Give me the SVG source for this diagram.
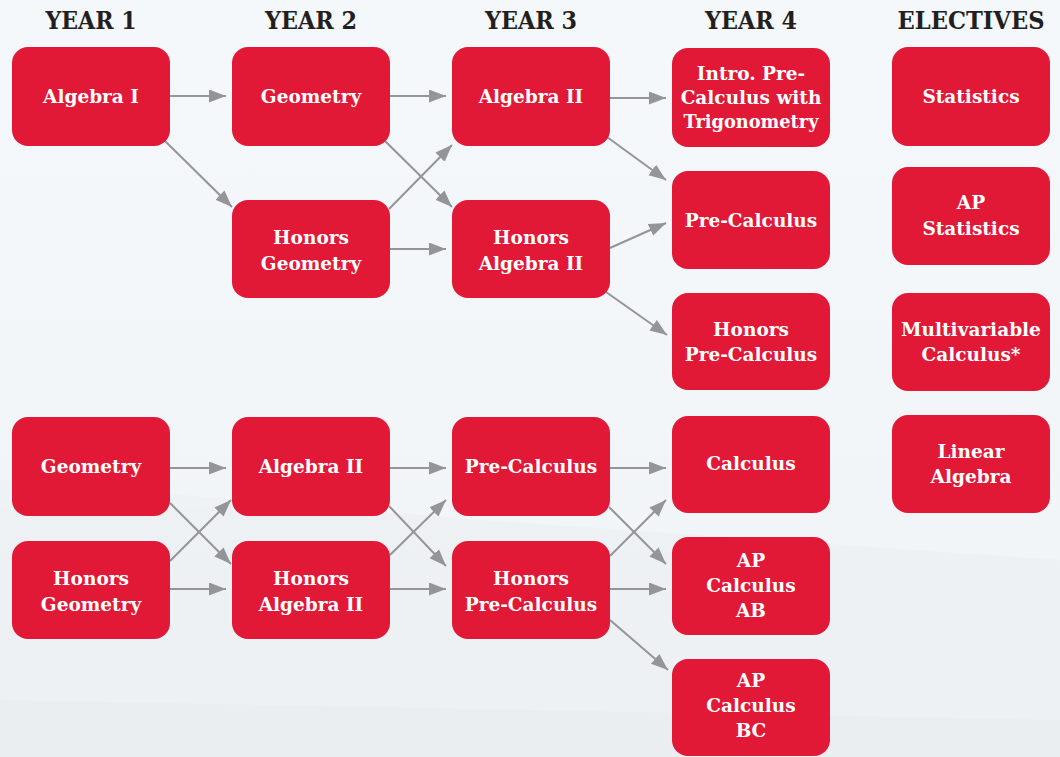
<svg xmlns="http://www.w3.org/2000/svg" width="1060" height="757" viewBox="0 0 1060 757">
<defs>
<marker id="ah" markerUnits="userSpaceOnUse" markerWidth="18" markerHeight="14" refX="17" refY="6.5" orient="auto">
<path d="M0,0 L17,6.5 L0,13 z" fill="#939598"/>
</marker>
<linearGradient id="bg" x1="0" y1="0" x2="0" y2="1">
<stop offset="0" stop-color="#f4f8fb"/>
<stop offset="1" stop-color="#f1f4f6"/>
</linearGradient>
</defs>
<style>
.n rect{fill:#e11937;}
.n text{fill:#ffffff;font-family:"DejaVu Serif","Liberation Serif",serif;font-weight:bold;font-size:18.5px;text-anchor:middle;dominant-baseline:central;}
.h{fill:#231f20;font-family:"DejaVu Serif","Liberation Serif",serif;font-weight:bold;font-size:25px;text-anchor:middle;}
#connectors line{stroke:#939598;stroke-width:2;marker-end:url(#ah);}
</style>
<rect width="1060" height="757" fill="url(#bg)"/>
<g id="building" opacity="0.5">
<polygon points="0,480 480,520 1060,560 1060,757 0,757" fill="#eceff1"/>
<polygon points="0,700 1060,720 1060,757 0,757" fill="#e6e9eb"/>
</g>
<g id="headers">
<text class="h" x="91" y="29" textLength="91" lengthAdjust="spacingAndGlyphs">YEAR 1</text>
<text class="h" x="311" y="29" textLength="92" lengthAdjust="spacingAndGlyphs">YEAR 2</text>
<text class="h" x="531" y="29" textLength="92" lengthAdjust="spacingAndGlyphs">YEAR 3</text>
<text class="h" x="751" y="29" textLength="92" lengthAdjust="spacingAndGlyphs">YEAR 4</text>
<text class="h" x="971" y="29" textLength="147" lengthAdjust="spacingAndGlyphs">ELECTIVES</text>
</g>
<g id="connectors">
<line x1="170" y1="96" x2="226" y2="96"/>
<line x1="165" y1="141" x2="232" y2="207"/>
<line x1="390" y1="96" x2="446" y2="96"/>
<line x1="385" y1="141" x2="452" y2="207"/>
<line x1="389" y1="209" x2="452" y2="145"/>
<line x1="390" y1="249" x2="446" y2="249"/>
<line x1="610" y1="98" x2="666" y2="98"/>
<line x1="607" y1="137" x2="666" y2="180"/>
<line x1="610" y1="248" x2="666" y2="223"/>
<line x1="606" y1="292" x2="667" y2="335"/>
<line x1="170" y1="468" x2="226" y2="468"/>
<line x1="170" y1="503" x2="231" y2="564"/>
<line x1="170" y1="561" x2="231" y2="500"/>
<line x1="170" y1="589" x2="226" y2="589"/>
<line x1="390" y1="468" x2="446" y2="468"/>
<line x1="389" y1="506" x2="446" y2="566"/>
<line x1="390" y1="555" x2="446" y2="500"/>
<line x1="390" y1="589" x2="446" y2="589"/>
<line x1="610" y1="468" x2="666" y2="468"/>
<line x1="609" y1="507" x2="666" y2="564"/>
<line x1="610" y1="556" x2="666" y2="500"/>
<line x1="610" y1="589" x2="666" y2="589"/>
<line x1="610" y1="620" x2="668" y2="670"/>
</g>
<g id="algebra1" class="n"><rect x="12" y="47" width="158" height="99" rx="16"/><text x="91" y="96">Algebra I</text></g>
<g id="geometry1" class="n"><rect x="232" y="47" width="158" height="99" rx="16"/><text x="311" y="96">Geometry</text></g>
<g id="honors-geometry1" class="n"><rect x="232" y="200" width="158" height="98" rx="16"/><text x="311" y="237">Honors</text><text x="311" y="263">Geometry</text></g>
<g id="algebra2-a" class="n"><rect x="452" y="47" width="158" height="99" rx="16"/><text x="531" y="96">Algebra II</text></g>
<g id="honors-algebra2-a" class="n"><rect x="452" y="200" width="158" height="98" rx="16"/><text x="531" y="237">Honors</text><text x="531" y="263">Algebra II</text></g>
<g id="intro-precalc" class="n"><rect x="672" y="48" width="158" height="99" rx="16"/><text x="751" y="73">Intro. Pre-</text><text x="751" y="97">Calculus with</text><text x="751" y="121" textLength="135" lengthAdjust="spacingAndGlyphs">Trigonometry</text></g>
<g id="precalc-a" class="n"><rect x="672" y="171" width="158" height="98" rx="16"/><text x="751" y="220">Pre-Calculus</text></g>
<g id="honors-precalc-a" class="n"><rect x="672" y="293" width="158" height="97" rx="16"/><text x="751" y="329">Honors</text><text x="751" y="354">Pre-Calculus</text></g>
<g id="geometry-b" class="n"><rect x="12" y="417" width="158" height="99" rx="16"/><text x="91" y="466">Geometry</text></g>
<g id="honors-geometry-b" class="n"><rect x="12" y="541" width="158" height="98" rx="16"/><text x="91" y="578">Honors</text><text x="91" y="604">Geometry</text></g>
<g id="algebra2-b" class="n"><rect x="232" y="417" width="158" height="99" rx="16"/><text x="311" y="466">Algebra II</text></g>
<g id="honors-algebra2-b" class="n"><rect x="232" y="541" width="158" height="98" rx="16"/><text x="311" y="578">Honors</text><text x="311" y="604">Algebra II</text></g>
<g id="precalc-b" class="n"><rect x="452" y="417" width="158" height="99" rx="16"/><text x="531" y="466">Pre-Calculus</text></g>
<g id="honors-precalc-b" class="n"><rect x="452" y="541" width="158" height="98" rx="16"/><text x="531" y="578">Honors</text><text x="531" y="604">Pre-Calculus</text></g>
<g id="calculus" class="n"><rect x="672" y="416" width="158" height="97" rx="16"/><text x="751" y="463">Calculus</text></g>
<g id="ap-calc-ab" class="n"><rect x="672" y="537" width="158" height="98" rx="16"/><text x="751" y="560">AP</text><text x="751" y="585">Calculus</text><text x="751" y="610">AB</text></g>
<g id="ap-calc-bc" class="n"><rect x="672" y="659" width="158" height="97" rx="16"/><text x="751" y="680">AP</text><text x="751" y="705">Calculus</text><text x="751" y="730">BC</text></g>
<g id="statistics" class="n"><rect x="892" y="47" width="158" height="99" rx="16"/><text x="971" y="96">Statistics</text></g>
<g id="ap-statistics" class="n"><rect x="892" y="167" width="158" height="98" rx="16"/><text x="971" y="202">AP</text><text x="971" y="228">Statistics</text></g>
<g id="multivariable" class="n"><rect x="892" y="293" width="158" height="98" rx="16"/><text x="971" y="329">Multivariable</text><text x="971" y="354">Calculus*</text></g>
<g id="linear-algebra" class="n"><rect x="892" y="415" width="158" height="98" rx="16"/><text x="971" y="451">Linear</text><text x="971" y="476">Algebra</text></g>
</svg>
